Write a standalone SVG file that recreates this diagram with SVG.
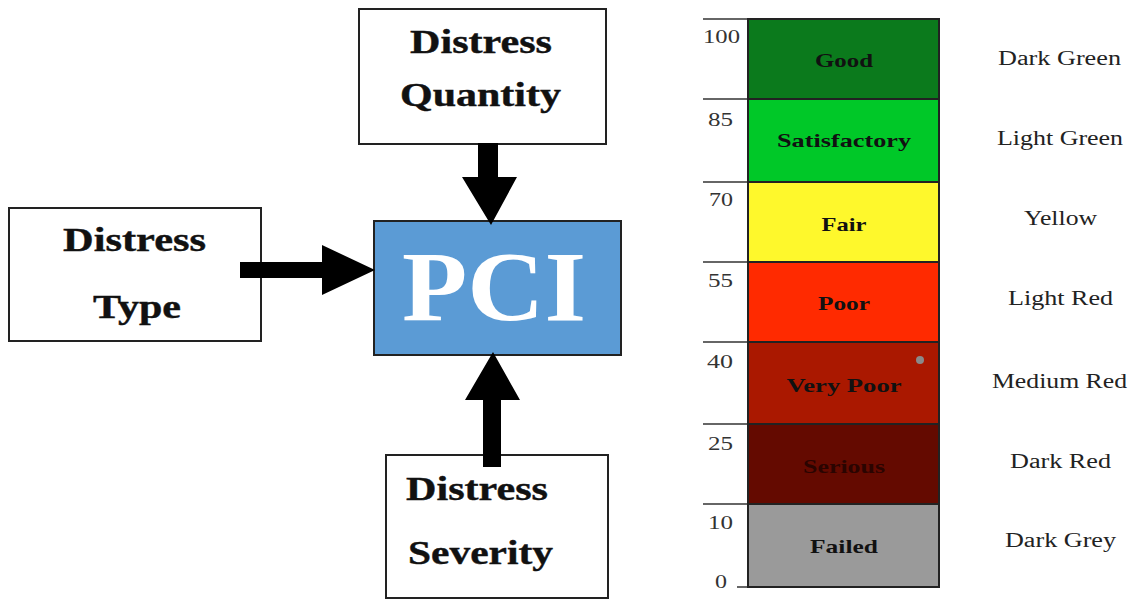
<svg xmlns="http://www.w3.org/2000/svg" width="1134" height="600" viewBox="0 0 1134 600">
<style>
.box{fill:#fff;stroke:#222;stroke-width:2}
.pci{fill:#5b9bd5;stroke:#222;stroke-width:2}
.bt{font-family:"Liberation Serif","Times New Roman",serif;font-weight:bold;font-size:34px;fill:#111;stroke:#111;stroke-width:0.4}
.arrow{fill:#000}
.band{stroke:#222;stroke-width:2}
.tick{stroke:#333;stroke-width:1.5}
.num{font-family:"Liberation Serif","Times New Roman",serif;font-size:19px;fill:#333}
.bl{font-family:"Liberation Serif","Times New Roman",serif;font-weight:bold;font-size:19px;fill:#111;text-anchor:middle}
.cl{font-family:"Liberation Serif","Times New Roman",serif;font-size:20px;fill:#222}
</style>
<rect width="1134" height="600" fill="#fff"/>
<g id="node-quantity">
<rect class="box" x="359" y="9" width="247" height="135"/>
<text class="bt" x="410" y="53" textLength="142" lengthAdjust="spacingAndGlyphs">Distress</text>
<text class="bt" x="400" y="106" textLength="161" lengthAdjust="spacingAndGlyphs">Quantity</text>
</g>
<g id="node-type">
<rect class="box" x="9" y="208" width="252" height="133"/>
<text class="bt" x="63" y="251" textLength="143" lengthAdjust="spacingAndGlyphs">Distress</text>
<text class="bt" x="93" y="318" textLength="88" lengthAdjust="spacingAndGlyphs">Type</text>
</g>
<g id="node-severity">
<rect class="box" x="386" y="455" width="222" height="143"/>
<text class="bt" x="406" y="500" textLength="142" lengthAdjust="spacingAndGlyphs">Distress</text>
<text class="bt" x="408" y="564" textLength="145" lengthAdjust="spacingAndGlyphs">Severity</text>
</g>
<g id="node-pci">
<rect class="pci" x="374" y="221" width="247" height="134"/>
<text x="402" y="320" textLength="184" lengthAdjust="spacingAndGlyphs" style="font-family:'Liberation Serif','Times New Roman',serif;font-weight:bold;font-size:100px;fill:#fff">PCI</text>
</g>
<g id="connectors">
<polygon class="arrow" points="478,143 498,143 498,177 517,177 491,225 462,177 478,177"/>
<polygon class="arrow" points="240,262 322,262 322,245 375,270 322,295 322,278 240,278"/>
<polygon class="arrow" points="483,467 501,467 501,400 520,400 493,352 465,400 483,400"/>
</g>
<g id="pci-scale">
<g id="ticks">
<line class="tick" x1="703" y1="19" x2="748" y2="19"/>
<line class="tick" x1="703" y1="99" x2="748" y2="99"/>
<line class="tick" x1="703" y1="182" x2="748" y2="182"/>
<line class="tick" x1="703" y1="262" x2="748" y2="262"/>
<line class="tick" x1="703" y1="342" x2="748" y2="342"/>
<line class="tick" x1="703" y1="424" x2="748" y2="424"/>
<line class="tick" x1="703" y1="504" x2="748" y2="504"/>
<line class="tick" x1="737" y1="587" x2="748" y2="587"/>
<text class="num" x="703" y="43" textLength="37" lengthAdjust="spacingAndGlyphs">100</text>
<text class="num" x="708" y="126" textLength="25" lengthAdjust="spacingAndGlyphs">85</text>
<text class="num" x="709" y="206" textLength="24" lengthAdjust="spacingAndGlyphs">70</text>
<text class="num" x="708" y="287" textLength="25" lengthAdjust="spacingAndGlyphs">55</text>
<text class="num" x="707" y="368" textLength="26" lengthAdjust="spacingAndGlyphs">40</text>
<text class="num" x="708" y="450" textLength="25" lengthAdjust="spacingAndGlyphs">25</text>
<text class="num" x="708" y="529" textLength="25" lengthAdjust="spacingAndGlyphs">10</text>
<text class="num" x="715" y="588" textLength="12" lengthAdjust="spacingAndGlyphs">0</text>
</g>
<g id="band-good">
<rect class="band" x="748" y="19" width="191" height="80" fill="#0b7a1c"/>
<text class="bl" x="844" y="67" textLength="58" lengthAdjust="spacingAndGlyphs">Good</text>
<text class="cl" x="998" y="65" textLength="123" lengthAdjust="spacingAndGlyphs">Dark Green</text>
</g>
<g id="band-satisfactory">
<rect class="band" x="748" y="99" width="191" height="83" fill="#00c828"/>
<text class="bl" x="844" y="147" textLength="134" lengthAdjust="spacingAndGlyphs">Satisfactory</text>
<text class="cl" x="997" y="145" textLength="126" lengthAdjust="spacingAndGlyphs">Light Green</text>
</g>
<g id="band-fair">
<rect class="band" x="748" y="182" width="191" height="80" fill="#fef82c"/>
<text class="bl" x="844" y="231" textLength="45" lengthAdjust="spacingAndGlyphs">Fair</text>
<text class="cl" x="1024" y="225" textLength="73" lengthAdjust="spacingAndGlyphs">Yellow</text>
</g>
<g id="band-poor">
<rect class="band" x="748" y="262" width="191" height="80" fill="#ff2a00"/>
<text class="bl" x="844" y="310" textLength="52" lengthAdjust="spacingAndGlyphs">Poor</text>
<text class="cl" x="1008" y="305" textLength="105" lengthAdjust="spacingAndGlyphs">Light Red</text>
</g>
<g id="band-verypoor">
<rect class="band" x="748" y="342" width="191" height="82" fill="#aa1800"/>
<circle cx="920" cy="360" r="4" fill="#8a8a8a"/>
<text class="bl" x="844" y="392" textLength="115" lengthAdjust="spacingAndGlyphs">Very Poor</text>
<text class="cl" x="992" y="388" textLength="135" lengthAdjust="spacingAndGlyphs">Medium Red</text>
</g>
<g id="band-serious">
<rect class="band" x="748" y="424" width="191" height="80" fill="#640a00"/>
<text class="bl" x="844" y="473" textLength="82" lengthAdjust="spacingAndGlyphs" style="fill:#2a0400">Serious</text>
<text class="cl" x="1010" y="468" textLength="101" lengthAdjust="spacingAndGlyphs">Dark Red</text>
</g>
<g id="band-failed">
<rect class="band" x="748" y="504" width="191" height="83" fill="#9a9a9a"/>
<text class="bl" x="844" y="553" textLength="68" lengthAdjust="spacingAndGlyphs">Failed</text>
<text class="cl" x="1005" y="547" textLength="111" lengthAdjust="spacingAndGlyphs">Dark Grey</text>
</g>
</g>
</svg>
